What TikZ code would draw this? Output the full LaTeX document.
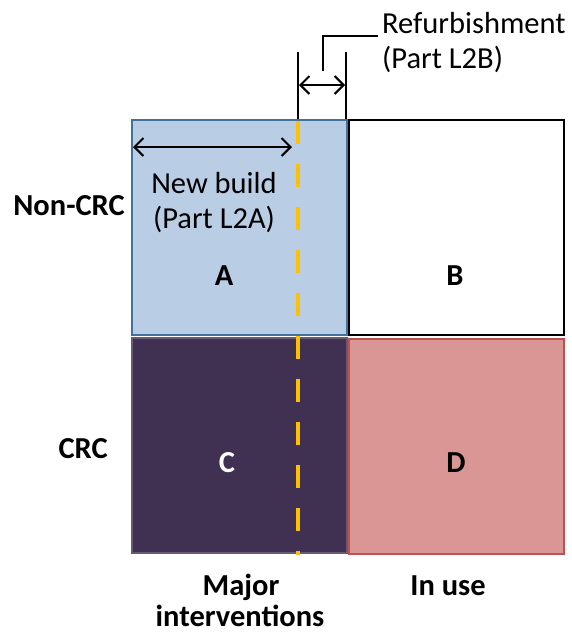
\documentclass[tikz,border=0pt]{standalone}
\usepackage{fontspec}
\setmainfont{Carlito}
\usetikzlibrary{arrows.meta}
\definecolor{boxA}{HTML}{B9CDE5}
\definecolor{edgeA}{HTML}{41719C}
\definecolor{boxC}{HTML}{403152}
\definecolor{boxD}{HTML}{D99694}
\definecolor{edgeD}{HTML}{C0504D}
\definecolor{dashY}{HTML}{FFC000}
\tikzset{
  cell/.style={draw, line width=2pt, minimum width=215pt, minimum height=215pt, anchor=north west, inner sep=0pt},
  lbl/.style={font=\fontsize{30.5}{36}\selectfont, inner sep=0pt},
  blbl/.style={font=\fontsize{30.5}{36}\selectfont\bfseries, inner sep=0pt},
  dim/.style={line width=2pt, {Straight Barb[length=9pt,width=18pt]}-{Straight Barb[length=9pt,width=18pt]}},
  thin/.style={line width=2pt},
}
\begin{document}
\begin{tikzpicture}[x=1pt,y=-1pt]
\useasboundingbox (0,0) rectangle (571,635);
\node[cell, fill=boxA, draw=edgeA] (A) at (131,119) {};
\node[cell, fill=white, draw=black] (B) at (348,119) {};
\node[cell, fill=boxC, draw=boxC!80!white] (C) at (131,337) {};
\node[cell, fill=boxD, draw=edgeD] (D) at (348,338) {};
% yellow dashed line
\coordinate (ytop) at (298,121);
\coordinate (ybot) at (298,555);
\draw[dashY, line width=4.5pt, dash pattern=on 23pt off 20pt] (ytop) -- (ybot);
% extension lines
\coordinate (e1t) at (298,52);
\coordinate (e1b) at (298,119);
\coordinate (e2t) at (346,52);
\coordinate (e2b) at (346,119);
\draw[thin] (e1t) -- (e1b);
\draw[thin] (e2t) -- (e2b);
\coordinate (r1) at (299,85);
\coordinate (r2) at (345,85);
\draw[dim] (r1) -- (r2);
% leader
\coordinate (l1) at (323,71);
\coordinate (l2) at (323,36);
\coordinate (l3) at (378,36);
\draw[thin] (l1) -- (l2) -- (l3);
\node[lbl, anchor=base west] (refurb) at (382,33) {Refurbishment};
\node[lbl, anchor=base west] (partB) at (382,68) {(Part L2B)};
% new build arrow
\coordinate (n1) at (133,147);
\coordinate (n2) at (292,147);
\draw[dim] (n1) -- (n2);
\node[lbl, anchor=base] (nb) at (214,193) {New build};
\node[lbl, anchor=base] (partA) at (214,228) {(Part L2A)};
% cell labels
\node[blbl, anchor=base] (la) at (224,285) {A};
\node[blbl, anchor=base] (lb) at (455,285) {B};
\node[blbl, anchor=base, text=white] (lc) at (227,472) {C};
\node[blbl, anchor=base] (ld) at (456,472) {D};
\node[blbl, anchor=base east] (noncrc) at (125,215) {Non-CRC};
\node[blbl, anchor=base east] (crc) at (108,458) {CRC};
\node[blbl, anchor=base] (major) at (241,595) {Major};
\node[blbl, anchor=base] (interv) at (240,626) {interventions};
\node[blbl, anchor=base] (inuse) at (448,595) {In use};
\end{tikzpicture}
\end{document}
